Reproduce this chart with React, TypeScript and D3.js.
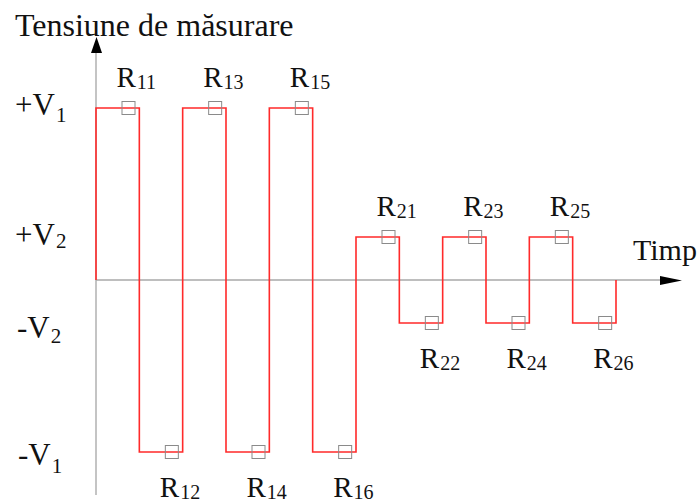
import React from "react";
import * as d3 from "d3";

const levels: number[] = [4, -4, 4, -4, 4, -4, 1, -1, 1, -1, 1, -1];
const markerNames: string[] = ["11", "12", "13", "14", "15", "16", "21", "22", "23", "24", "25", "26"];
const yTickValues: number[] = [4, 1, -1, -4];
const yTickMain: string[] = ["+V", "+V", "-V", "-V"];
const yTickSub: string[] = ["1", "2", "2", "1"];
const yTickBaseline: number[] = [115, 245, 338, 465];
const yTickSubShift: number[] = [7, 3, 5, 8];
const yTickX: number[] = [15, 15, 17, 18];

const W = 700;
const H = 504;
const FONT = "'Liberation Serif', 'Times New Roman', serif";

export default function App() {
  const x = d3.scaleLinear().domain([0, levels.length]).range([96, 616]);
  const y = d3.scaleLinear().domain([-4, 4]).range([452, 108]);

  const pts: [number, number][] = [[0, 0]];
  levels.forEach((v, i) => pts.push([i, v]));
  pts.push([levels.length, levels[levels.length - 1]]);
  pts.push([levels.length, 0]);

  const line = d3
    .line<[number, number]>()
    .x((d) => x(d[0]))
    .y((d) => y(d[1]))
    .curve(d3.curveStepAfter);

  const x0 = x(0);
  const y0 = y(0);
  const sq = 13;

  return (
    <svg
      width={W}
      height={H}
      style={{ position: "absolute", left: 0, top: 0, background: "#fff" }}
      fontFamily={FONT}
    >
      {/* axes */}
      <line x1={x0} y1={50} x2={x0} y2={495} stroke="#b0b0b0" strokeWidth={1.5} />
      <line x1={x0} y1={y0} x2={662} y2={y0} stroke="#a8a8a8" strokeWidth={1.5} />
      <path d={`M${x0 + 0.5},37 L${x0 - 5},53 L${x0 + 6},53 Z`} fill="#000" />
      <path d={`M682,${y0 + 0.5} L660,${y0 - 4} L660,${y0 + 5} Z`} fill="#000" />

      {/* signal */}
      <path d={line(pts) || ""} fill="none" stroke="#ff2a2a" strokeWidth={1.6} />

      {/* markers */}
      {levels.map((v, i) => {
        const cx = x(i + 0.75);
        const cy = y(v);
        return (
          <rect
            key={"m" + i}
            x={cx - sq / 2}
            y={cy - sq / 2}
            width={sq}
            height={sq}
            fill="none"
            stroke="#8a8a8a"
            strokeWidth={1}
          />
        );
      })}

      {/* marker labels */}
      {levels.map((v, i) => {
        const cx = x(i + 0.75);
        const cy = y(v);
        const base = v > 0 ? cy - 21 : cy + 45;
        return (
          <text key={"l" + i} x={cx - 12} y={base} fontSize={29} fill="#111">
            R
            <tspan fontSize={20} dx={1} dy={2}>
              {markerNames[i]}
            </tspan>
          </text>
        );
      })}

      {/* y tick labels */}
      {yTickValues.map((v, i) => (
        <text key={"t" + v} x={yTickX[i]} y={yTickBaseline[i]} fontSize={31} fill="#111">
          {yTickMain[i]}
          <tspan fontSize={21} dx={1} dy={yTickSubShift[i]}>
            {yTickSub[i]}
          </tspan>
        </text>
      ))}

      {/* axis titles */}
      <text x={15} y={36} fontSize={32} fill="#111">
        Tensiune de măsurare
      </text>
      <text x={633} y={260} fontSize={30} fill="#111">
        Timp
      </text>
    </svg>
  );
}
